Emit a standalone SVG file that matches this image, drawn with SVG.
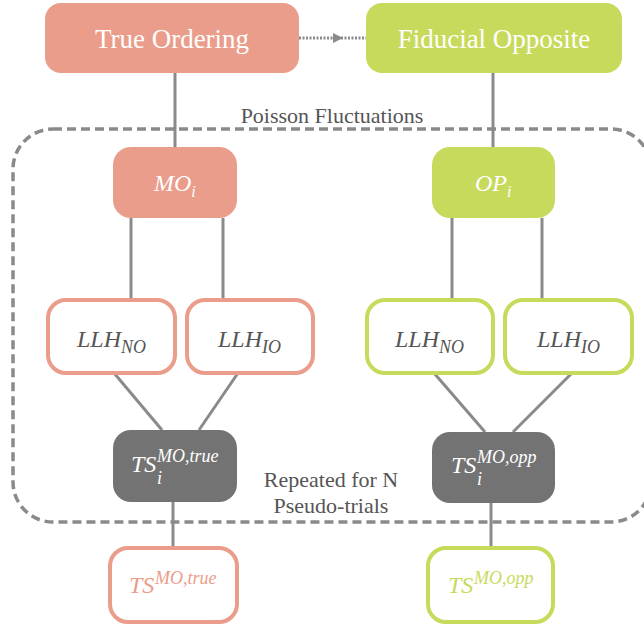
<svg xmlns="http://www.w3.org/2000/svg" width="644" height="630" viewBox="0 0 644 630">
<defs>
<polygon id="arrowhead" points="0,-5 10,0 0,5" fill="#8a8a8a"/>
</defs>
<rect x="13" y="129" width="638" height="393" rx="40" fill="none" stroke="#8a8a8a" stroke-width="3.5" stroke-dasharray="9,5"/>
<g font-family="Liberation Serif" font-size="22" fill="#555" text-anchor="middle">
<text x="332" y="123">Poisson Fluctuations</text>
<text x="331" y="487">Repeated for N</text>
<text x="331" y="513">Pseudo-trials</text>
</g>
<g id="connectors" stroke="#8a8a8a" stroke-width="3" fill="none">
<line x1="299" y1="38" x2="366" y2="38" stroke-dasharray="2,1.5"/>
<use href="#arrowhead" x="333" y="38" stroke="none"/>
<line x1="175" y1="73" x2="175" y2="147"/>
<line x1="493" y1="73" x2="493" y2="147"/>
<line x1="131" y1="218" x2="131" y2="300"/>
<line x1="223" y1="218" x2="223" y2="300"/>
<line x1="452" y1="218" x2="452" y2="300"/>
<line x1="542" y1="218" x2="542" y2="300"/>
<line x1="114" y1="373" x2="162" y2="430"/>
<line x1="238" y1="373" x2="199" y2="430"/>
<line x1="434" y1="373" x2="485" y2="432"/>
<line x1="572" y1="373" x2="513" y2="432"/>
<line x1="173" y1="502" x2="173" y2="548"/>
<line x1="491" y1="503" x2="491" y2="548"/>
</g>
<g id="true-ordering">
<rect x="45" y="3" width="254" height="70" rx="16" fill="#EA9D8A"/>
<text font-family="Liberation Serif" font-size="27" fill="#fff" text-anchor="middle" x="172" y="48">True Ordering</text>
</g>
<g id="fiducial-opposite">
<rect x="366" y="3" width="256" height="70" rx="16" fill="#C8DA5B"/>
<text font-family="Liberation Serif" font-size="27" fill="#fff" text-anchor="middle" x="494" y="48">Fiducial Opposite</text>
</g>
<g id="mo-i">
<rect x="113" y="147" width="124" height="71" rx="18" fill="#EA9D8A"/>
<text font-family="Liberation Serif" font-style="italic" x="154" y="191" fill="#fff" font-size="24">MO<tspan font-size="16" dy="6">i</tspan></text>
</g>
<g id="op-i">
<rect x="432" y="147" width="123" height="71" rx="18" fill="#C8DA5B"/>
<text font-family="Liberation Serif" font-style="italic" x="475" y="191" fill="#fff" font-size="24">OP<tspan font-size="16" dy="6">i</tspan></text>
</g>
<g id="llh-no-left">
<rect x="48" y="300" width="127" height="73" rx="18" fill="#fff" stroke="#EA9D8A" stroke-width="4"/>
<text font-family="Liberation Serif" font-style="italic" x="77" y="347" fill="#555" font-size="24">LLH<tspan font-size="18" dy="6">NO</tspan></text>
</g>
<g id="llh-io-left">
<rect x="187" y="300" width="126" height="73" rx="18" fill="#fff" stroke="#EA9D8A" stroke-width="4"/>
<text font-family="Liberation Serif" font-style="italic" x="218" y="347" fill="#555" font-size="24">LLH<tspan font-size="18" dy="6">IO</tspan></text>
</g>
<g id="llh-no-right">
<rect x="367" y="300" width="126" height="73" rx="18" fill="#fff" stroke="#C8DA5B" stroke-width="4"/>
<text font-family="Liberation Serif" font-style="italic" x="395" y="347" fill="#555" font-size="24">LLH<tspan font-size="18" dy="6">NO</tspan></text>
</g>
<g id="llh-io-right">
<rect x="505" y="300" width="127" height="73" rx="18" fill="#fff" stroke="#C8DA5B" stroke-width="4"/>
<text font-family="Liberation Serif" font-style="italic" x="537" y="347" fill="#555" font-size="24">LLH<tspan font-size="18" dy="6">IO</tspan></text>
</g>
<g id="ts-i-true">
<rect x="113" y="430" width="124" height="72" rx="18" fill="#737373"/>
<text font-family="Liberation Serif" font-style="italic" fill="#fff"><tspan x="131" y="472" font-size="24">TS</tspan><tspan x="157" y="462" font-size="18">MO,true</tspan><tspan x="157" y="484" font-size="18">i</tspan></text>
</g>
<g id="ts-i-opp">
<rect x="432" y="432" width="123" height="71" rx="18" fill="#737373"/>
<text font-family="Liberation Serif" font-style="italic" fill="#fff"><tspan x="451" y="473" font-size="24">TS</tspan><tspan x="477" y="463" font-size="18">MO,opp</tspan><tspan x="477" y="485" font-size="18">i</tspan></text>
</g>
<g id="ts-true">
<rect x="110" y="548" width="127" height="74" rx="18" fill="#fff" stroke="#EA9D8A" stroke-width="4"/>
<text font-family="Liberation Serif" font-style="italic" fill="#EA9D8A"><tspan x="129" y="593" font-size="24">TS</tspan><tspan x="155" y="584" font-size="18">MO,true</tspan></text>
</g>
<g id="ts-opp">
<rect x="428" y="548" width="125" height="74" rx="18" fill="#fff" stroke="#C8DA5B" stroke-width="4"/>
<text font-family="Liberation Serif" font-style="italic" fill="#C8DA5B"><tspan x="448" y="593" font-size="24">TS</tspan><tspan x="474" y="584" font-size="18">MO,opp</tspan></text>
</g>
</svg>
